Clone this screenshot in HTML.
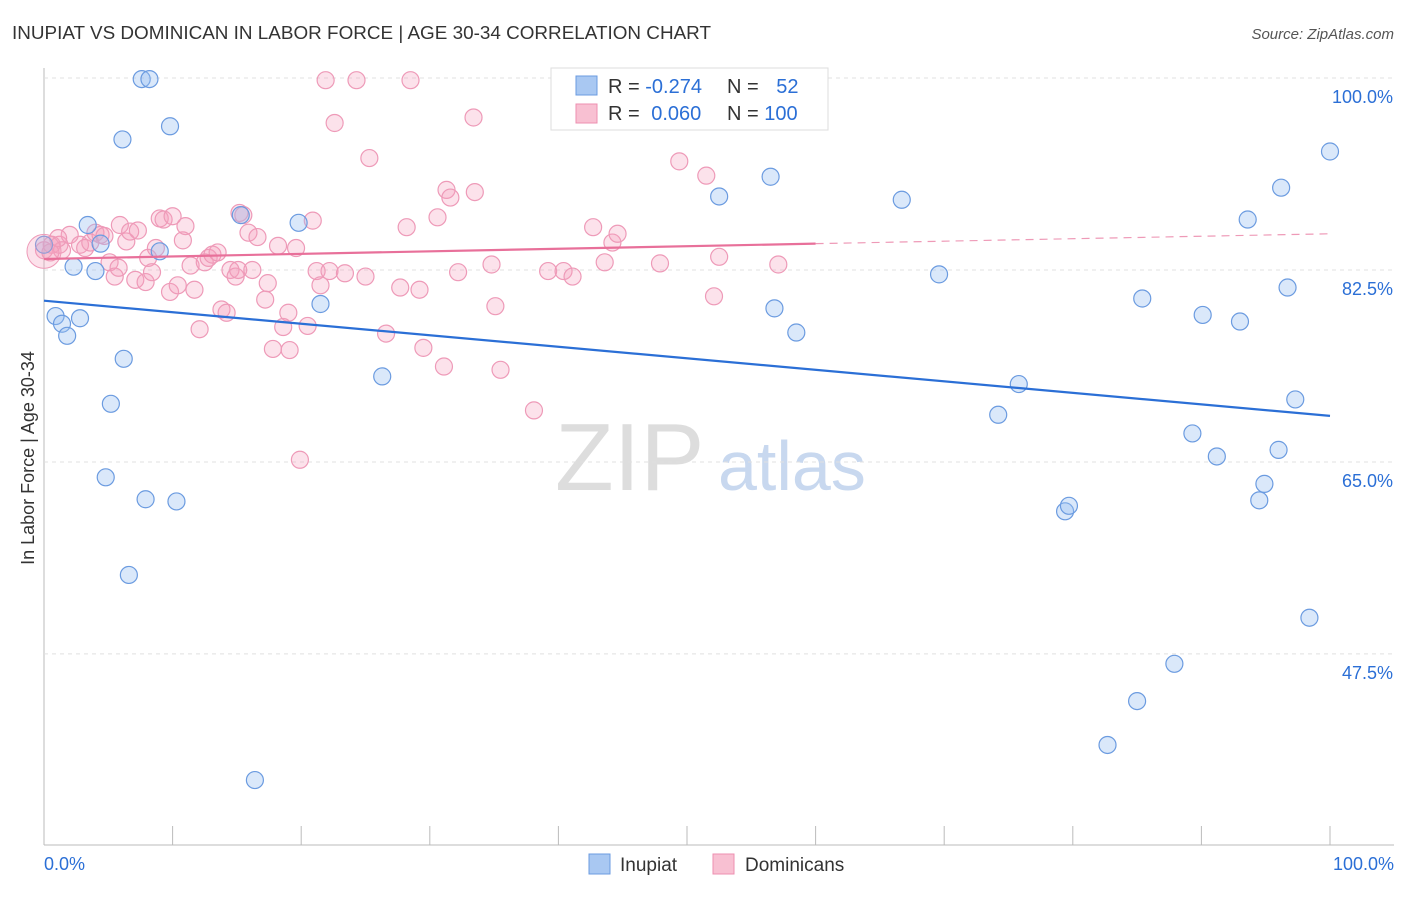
<!DOCTYPE html>
<html><head><meta charset="utf-8"><style>
body{margin:0;background:#fff;font-family:"Liberation Sans",sans-serif}
svg text{font-family:"Liberation Sans",sans-serif}
</style></head><body>
<svg id="c" width="1406" height="892" xmlns="http://www.w3.org/2000/svg">
<text x="12" y="39" font-size="18" fill="#333" textLength="699" lengthAdjust="spacingAndGlyphs">INUPIAT VS DOMINICAN IN LABOR FORCE | AGE 30-34 CORRELATION CHART</text>
<text x="1394" y="39" font-size="15" fill="#555" text-anchor="end" font-style="italic">Source: ZipAtlas.com</text>
<text x="34" y="458" font-size="18" fill="#333" text-anchor="middle" transform="rotate(-90 34 458)">In Labor Force | Age 30-34</text>
<g><text x="555" y="490" font-size="96" fill="#ddd" font-family="Liberation Serif,serif">ZIP</text><text x="718" y="490" font-size="70" fill="#c8d8ef">atlas</text></g>
<g id="grid"></g><g id="pts"></g><g id="lines"></g>
<g>
<rect x="551" y="68" width="277" height="62" fill="#fff" stroke="#ddd"/>
<rect x="576" y="76" width="21" height="19" fill="#a9c8f2" stroke="#6b9be0"/>
<rect x="576" y="104" width="21" height="19" fill="#f8c0d2" stroke="#ee8fb0"/>
<text x="608" y="93" font-size="20" fill="#333">R = <tspan fill="#2b6fd6">-0.274</tspan></text>
<text x="727" y="93" font-size="20" fill="#333">N = <tspan fill="#2b6fd6" dx="12">52</tspan></text>
<text x="608" y="120" font-size="20" fill="#333">R = <tspan fill="#2b6fd6" dx="6">0.060</tspan></text>
<text x="727" y="120" font-size="20" fill="#333">N = <tspan fill="#2b6fd6">100</tspan></text>
</g>
<g>
<rect x="589" y="854" width="21" height="20" fill="#a9c8f2" stroke="#6b9be0"/>
<text x="620" y="871" font-size="19" fill="#333">Inupiat</text>
<rect x="713" y="854" width="21" height="20" fill="#f8c0d2" stroke="#ee8fb0"/>
<text x="745" y="871" font-size="19" fill="#333">Dominicans</text>
</g>
<text x="44" y="870" font-size="18" fill="#2b6fd6">0.0%</text>
<text x="1394" y="870" font-size="18" fill="#2b6fd6" text-anchor="end">100.0%</text>
</svg>
<script>
const yTicks=[100,82.5,65,47.5];
const yTickLabels=["100.0%","82.5%","65.0%","47.5%"];
const blueX=[7.6,8.2,6.1,9.8,0,0.9,1.4,1.8,2.8,2.3,3.4,4.0,4.4,6.2,5.2,4.8,7.9,10.3,6.6,9.0,15.3,19.8,21.5,26.3,16.4,52.5,56.5,56.8,58.5,66.7,69.6,75.8,74.2,79.4,79.7,82.7,85.0,85.4,87.9,89.3,90.1,91.2,93.0,93.6,94.5,94.9,96.0,96.2,96.7,97.3,98.4,100];
const blueY=[99.9,99.9,94.4,95.6,84.8,78.3,77.6,76.5,78.1,82.8,86.6,82.4,84.9,74.4,70.3,63.6,61.6,61.4,54.7,84.2,87.5,86.8,79.4,72.8,36.0,89.2,91.0,79.0,76.8,88.9,82.1,72.1,69.3,60.5,61.0,39.2,43.2,79.9,46.6,67.6,78.4,65.5,77.8,87.1,61.5,63.0,66.1,90.0,80.9,70.7,50.8,93.3];
const pinkX=[0,0.6,1.2,1.4,2.0,2.8,3.2,3.6,4.0,4.4,4.7,5.1,5.5,5.8,5.9,6.4,6.7,7.1,7.3,7.9,8.1,8.4,8.7,9.0,9.3,9.8,10.0,10.4,10.8,11.0,11.4,11.7,12.1,12.5,12.8,13.1,13.5,13.8,14.2,14.5,14.9,15.1,15.2,15.5,15.9,16.2,16.6,17.2,17.4,17.8,18.2,18.6,19.0,19.1,19.6,19.9,20.5,20.9,21.2,21.5,21.9,22.2,22.6,23.4,24.3,25.0,25.3,26.6,27.7,28.2,28.5,29.2,29.5,30.6,31.1,31.3,31.6,32.2,33.4,33.5,34.8,35.1,35.5,38.1,39.2,40.1,40.4,41.1,42.7,43.6,44.2,44.6,47.9,49.4,51.5,52.1,52.5,57.1,0.5,1.1];
const pinkY=[84.3,84.8,84.8,84.3,85.7,84.8,84.5,85.0,85.9,85.7,85.6,83.2,81.9,82.7,86.6,85.1,86.0,81.6,86.1,81.4,83.6,82.3,84.5,87.2,87.1,80.5,87.4,81.1,85.2,86.5,82.9,80.7,77.1,83.2,83.6,83.9,84.1,78.9,78.6,82.5,81.9,82.5,87.7,87.5,85.9,82.5,85.5,79.8,81.3,75.3,84.7,77.3,78.6,75.2,84.5,65.2,77.4,87.0,82.4,81.1,99.8,82.4,95.9,82.2,99.8,81.9,92.7,76.7,80.9,86.4,99.8,80.7,75.4,87.3,73.7,89.8,89.1,82.3,96.4,89.6,83.0,79.2,73.4,69.7,82.4,99.8,82.4,81.9,86.4,83.2,85.0,85.8,83.1,92.4,91.1,80.1,83.7,83.0,84.1,85.4];
const blueTrend=[79.7,69.2];
const pinkTrend=[83.5,84.9,85.8];
const NS="http://www.w3.org/2000/svg";
const X=v=>44+v*12.86, Y=v=>78+(100-v)*10.97;
function mk(t,a,p){const e=document.createElementNS(NS,t);for(const k in a)e.setAttribute(k,a[k]);p.appendChild(e);return e;}
const g=document.getElementById('grid');
const ax=mk('line',{x1:44,y1:68,x2:44,y2:845,stroke:'#bbb'},g);


const bx=mk('line',{x1:44,y1:845,x2:1394,y2:845,stroke:'#bbb'},g);


for(let i=1;i<=10;i++){const t=mk('line',{x1:X(i*10),y1:826,x2:X(i*10),y2:845,stroke:'#bbb'},g);

}
yTicks.forEach((v,i)=>{const l=mk('line',{x1:44,y1:Y(v),x2:1394,y2:Y(v),stroke:'#e0e0e0','stroke-dasharray':'4 4'},g);


const t=mk('text',{x:1393,y:Y(v)+25,'font-size':18,fill:'#2b6fd6','text-anchor':'end'},g);t.textContent=yTickLabels[i];

});
const p=document.getElementById('pts');
pinkX.forEach((x,i)=>{const c=mk('circle',{cx:X(x),cy:Y(pinkY[i]),r:8.5,fill:'rgba(244,160,190,0.3)',stroke:'#ee9ab8','stroke-width':1.2},p);

});
blueX.forEach((x,i)=>{const c=mk('circle',{cx:X(x),cy:Y(blueY[i]),r:8.5,fill:'rgba(150,190,240,0.35)',stroke:'#6b9be0','stroke-width':1.2},p);

});
const big=mk('circle',{cx:X(0),cy:Y(84.2),r:17,fill:'rgba(244,160,190,0.3)',stroke:'#ee9ab8'},p);


const L=document.getElementById('lines');
const bl=mk('line',{x1:X(0),y1:Y(blueTrend[0]),x2:X(100),y2:Y(blueTrend[1]),stroke:'#2b6fd6','stroke-width':2.2},L);


const pl=mk('line',{x1:X(0),y1:Y(pinkTrend[0]),x2:X(60),y2:Y(pinkTrend[1]),stroke:'#e8709a','stroke-width':2.2},L);


const pd=mk('line',{x1:X(60),y1:Y(pinkTrend[1]),x2:X(100),y2:Y(pinkTrend[2]),stroke:'#e8709a','stroke-width':1.2,'stroke-dasharray':'8 6',opacity:0.7},L);


</script>
</body></html>
